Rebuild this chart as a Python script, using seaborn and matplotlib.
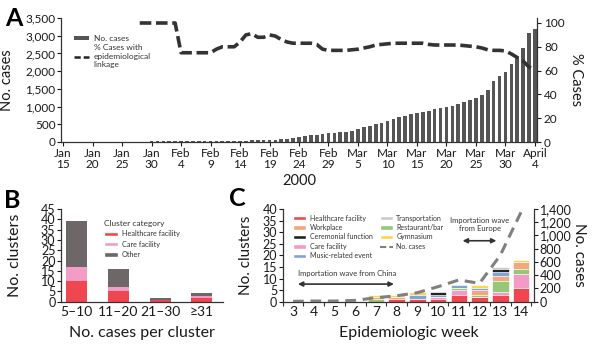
import numpy as np
import pandas as pd
import matplotlib
matplotlib.use("Agg")
import matplotlib.pyplot as plt
from matplotlib.patches import Patch
from matplotlib.lines import Line2D
import seaborn as sns

sns.set_style("white")
plt.rcParams['font.family'] = ['Lato', 'DejaVu Sans']

# ---------------- Panel A data ----------------
day_labels = ["Jan\n15", "Jan\n20", "Jan\n25", "Jan\n30", "Feb\n4", "Feb\n9", "Feb\n14",
              "Feb\n19", "Feb\n24", "Feb\n29", "Mar\n5", "Mar\n10", "Mar\n15", "Mar\n20",
              "Mar\n25", "Mar\n30", "April\n4"]
cases_a = [1, 1, 1, 1, 1, 1, 2, 2, 3, 4, 4, 7, 8, 11, 14, 15, 17, 20, 20, 20,
           20, 22, 25, 25, 26, 26, 28, 29, 29, 33, 38, 41, 45, 50, 55, 60, 66, 75, 90, 110,
           140, 165, 185, 210, 230, 245, 262, 275, 292, 318, 355, 410, 450, 495, 528, 592, 640, 695, 745, 792,
           820, 839, 877, 924, 971, 990, 1028, 1075, 1122, 1179, 1245, 1339, 1480, 1716, 1867, 1980, 2188, 2386, 2660, 3065,
           3187]
pct_start = 13
pct_linked = [100, 100, 100, 100, 100, 100, 100, 75, 75, 75, 75, 75, 75, 78, 80, 80, 80, 84,
              90, 91, 88, 88, 90, 89, 86, 84, 83, 83, 83, 83, 82, 78, 77, 77, 77, 77, 77.5,
              78, 79, 80, 81.5, 82, 82.5, 83, 83, 83, 83, 83, 83, 82, 81.5, 81.5, 81.5, 81.5,
              81.5, 81, 80.5, 80, 79, 77.5, 77, 77, 76.5, 74, 71, 68, 63, 61]

# ---------------- Panel B data ----------------
b_cats = ["5\u201310", "11\u201320", "21\u201330", "\u226531"]
b_health = [10, 5, 1, 2]
b_care = [7, 2, 0, 1]
b_other = [22, 9, 1, 1]

# ---------------- Panel C data ----------------
weeks = ["3", "4", "5", "6", "7", "8", "9", "10", "11", "12", "13", "14"]
c_health = [0, 0, 0, 0, 0, 1, 1, 1, 3, 2, 3, 6]
c_care = [0, 0, 0, 0, 0, 0, 0, 1, 2, 0, 1, 6]
c_rest = [0, 0, 0, 0, 1, 0, 0, 0, 1, 1, 5, 2]
c_work = [0, 0, 0, 0, 1, 1, 0, 0, 0, 2, 2, 3]
c_music = [0, 0, 0, 0, 0, 0, 2, 1, 1, 1, 2, 0]
c_cere = [0, 0, 0, 0, 0, 0, 0, 1, 0, 0, 1, 0]
c_trans = [0, 0, 0, 0, 0, 0, 0, 0, 0, 0, 1, 0]
c_gym = [0, 0, 0, 0, 1, 1, 1, 0, 0, 1, 0, 1]
c_cases = [5, 10, 10, 20, 60, 90, 136, 227, 328, 278, 700, 1350]

TXT = "#1a1a1a"
W, H = 600, 346
fig = plt.figure(figsize=(6, 3.46), dpi=100)

def frac(x0, y0, x1, y1):
    return [x0 / W, 1 - y1 / H, (x1 - x0) / W, (y1 - y0) / H]

# ================= Panel A =================
axA = fig.add_axes(frac(61, 18, 537, 142))
days = np.arange(len(cases_a))
dfA = pd.DataFrame({"day": days, "cases": cases_a})
sns.barplot(data=dfA, x="day", y="cases", color="#555555", saturation=1,
            width=0.62, ax=axA, linewidth=0)
axA.set_xlim(-0.35, len(cases_a) - 1 + 0.35)
axA.set_ylim(0, 3500)
axA.set_yticks(np.arange(0, 3501, 500))
axA.set_yticklabels([f"{v:,}" for v in range(0, 3501, 500)])
axA.set_xticks(np.arange(0, len(cases_a), 5))
axA.set_xticklabels(day_labels, linespacing=1.0)
axA.set_xlabel("2000", fontsize=10.5, color=TXT, labelpad=3)
axA.set_ylabel("No. cases", fontsize=10.5, color=TXT)
axA.yaxis.set_label_coords((14 - 61) / 476, 0.5)
axA.tick_params(axis="both", labelsize=8.5, colors=TXT, length=3, width=0.8, pad=1,
                direction="out", bottom=True, left=True)
for s in ["top", "right"]:
    axA.spines[s].set_visible(False)
for s in ["left", "bottom"]:
    axA.spines[s].set_color("#333333")
    axA.spines[s].set_linewidth(0.9)

axA2 = axA.twinx()
dfL = pd.DataFrame({"day": np.arange(pct_start, pct_start + len(pct_linked)), "pct": pct_linked})
sns.lineplot(data=dfL, x="day", y="pct", ax=axA2, color="#333333", linewidth=2.6,
             linestyle=(0, (3.2, 1.3)))
axA2.set_ylim(0, 104.2)
axA2.set_yticks(np.arange(0, 101, 20))
axA2.set_ylabel("% Cases", fontsize=10.5, color=TXT, rotation=270, va="center")
axA2.yaxis.set_label_coords((576 - 61) / 476, 0.5)
axA2.set_xlabel("")
axA2.tick_params(axis="y", labelsize=8.5, colors=TXT, length=3, width=0.8, pad=2, right=True)
for s in ["top", "left", "bottom"]:
    axA2.spines[s].set_visible(False)
axA2.spines["right"].set_color("#333333")
axA2.spines["right"].set_linewidth(0.9)
axA2.set_xlim(axA.get_xlim())

legA = axA.legend(handles=[Patch(facecolor="#555555", edgecolor="none"),
                           Line2D([], [], color="#222222", lw=1.8, linestyle=(0, (2.5, 1.2)))],
                  labels=["No. cases", "% Cases with\nepidemiological\nlinkage"],
                  loc="upper left", bbox_to_anchor=(0.02, 0.89), frameon=False,
                  fontsize=6, handlelength=1.8, handleheight=0.5, handletextpad=0.6,
                  labelspacing=0.3, borderaxespad=0)
for t in legA.get_texts():
    t.set_color("#333333")

fig.text(5 / W, 1 - 18 / H, "A", fontsize=18, fontweight="bold", color="black",
         va="center", ha="left")

# ================= Panel B =================
colB = {"health": "#EF4650", "care": "#F29CC6", "other": "#6D6767"}
axB = fig.add_axes(frac(61, 209, 222.7, 301.7))
cum_h = np.array(b_health)
cum_c = cum_h + np.array(b_care)
cum_o = cum_c + np.array(b_other)
for vals, c in [(cum_o, colB["other"]), (cum_c, colB["care"]), (cum_h, colB["health"])]:
    sns.barplot(x=b_cats, y=vals, order=b_cats, color=c, saturation=1, width=0.5,
                ax=axB, linewidth=0)
axB.set_xlim(-0.38, 3.5)
axB.set_ylim(0, 45)
axB.set_yticks(np.arange(0, 46, 5))
axB.set_xlabel("No. cases per cluster", fontsize=11.5, color=TXT, labelpad=6)
axB.set_ylabel("No. clusters", fontsize=11.5, color=TXT)
axB.yaxis.set_label_coords((22 - 61) / 161.7, 0.5)
axB.tick_params(axis="y", labelsize=9, colors=TXT, length=3, width=0.8, pad=1, left=True)
axB.tick_params(axis="x", labelsize=10, colors=TXT, length=0, pad=3)
for s in ["top", "right"]:
    axB.spines[s].set_visible(False)
for s in ["left", "bottom"]:
    axB.spines[s].set_color("#333333")
    axB.spines[s].set_linewidth(0.9)
legB = axB.legend(handles=[Patch(facecolor=colB["health"]), Patch(facecolor=colB["care"]),
                           Patch(facecolor=colB["other"])],
                  labels=["Healthcare facility", "Care facility", "Other"],
                  title="Cluster category", title_fontsize=6, fontsize=5.2,
                  loc="upper left", bbox_to_anchor=(0.25, 0.91), frameon=False,
                  handlelength=1.9, handleheight=0.6, handletextpad=0.5, labelspacing=0.45,
                  borderaxespad=0)
legB._legend_box.align = "left"
for t in legB.get_texts():
    t.set_color("#333333")
legB.get_title().set_color("#333333")
fig.text(4 / W, 1 - 200 / H, "B", fontsize=18, fontweight="bold", color="black",
         va="center", ha="left")

# ================= Panel C =================
colC = {"health": "#EF4650", "care": "#F39BC6", "rest": "#93C878", "work": "#F5A77C",
        "music": "#7FA2D9", "cere": "#222222", "trans": "#C9C9C9", "gym": "#FDD549"}
axC = fig.add_axes(frac(282.7, 209, 534, 301.7))
layers = [("health", c_health), ("care", c_care), ("rest", c_rest), ("work", c_work),
          ("music", c_music), ("cere", c_cere), ("trans", c_trans), ("gym", c_gym)]
cums = []
run = np.zeros(len(weeks))
for k, v in layers:
    run = run + np.array(v)
    cums.append((k, run.copy()))
for k, vals in reversed(cums):
    sns.barplot(x=weeks, y=vals, order=weeks, color=colC[k], saturation=1, width=0.8,
                ax=axC, edgecolor="white", linewidth=0.5)
axC.set_xlim(-0.48, len(weeks) - 1 + 0.63)
axC.set_ylim(0, 40)
axC.set_yticks(np.arange(0, 41, 5))
axC.set_xlabel("Epidemiologic week", fontsize=11.5, color=TXT, labelpad=6)
axC.set_ylabel("No. clusters", fontsize=11, color=TXT)
axC.yaxis.set_label_coords((253 - 282.7) / 251.3, 0.5)
axC.tick_params(axis="y", labelsize=9, colors=TXT, length=3, width=0.8, pad=1, left=True)
axC.tick_params(axis="x", labelsize=10, colors=TXT, length=0, pad=3)
axC.set_xticks(np.arange(-0.5, len(weeks), 1), minor=True)
axC.tick_params(axis="x", which="minor", length=3, width=0.8, bottom=True, color="#333333")
for s in ["top", "right"]:
    axC.spines[s].set_visible(False)
for s in ["left", "bottom"]:
    axC.spines[s].set_color("#333333")
    axC.spines[s].set_linewidth(0.9)

axC2 = axC.twinx()
sns.lineplot(x=np.arange(len(weeks)), y=c_cases, ax=axC2, color="#808080", linewidth=2.2,
             linestyle=(0, (3.5, 2.2)))
axC2.set_ylim(0, 1400)
axC2.set_yticks(np.arange(0, 1401, 200))
axC2.set_yticklabels([f"{v:,}" for v in range(0, 1401, 200)])
axC2.set_ylabel("No. cases", fontsize=11, color=TXT, rotation=270, va="center")
axC2.yaxis.set_label_coords((579 - 282.7) / 251.3, 0.5)
axC2.tick_params(axis="y", labelsize=9, colors=TXT, length=3, width=0.8, pad=1, right=True)
for s in ["top", "left", "bottom"]:
    axC2.spines[s].set_visible(False)
axC2.spines["right"].set_color("#333333")
axC2.spines["right"].set_linewidth(0.9)
axC2.set_xlim(axC.get_xlim())

legC = axC.legend(handles=[Patch(facecolor=colC["health"]), Patch(facecolor=colC["work"]),
                           Patch(facecolor=colC["cere"]), Patch(facecolor=colC["care"]),
                           Patch(facecolor=colC["music"]), Patch(facecolor=colC["trans"]),
                           Patch(facecolor=colC["rest"]), Patch(facecolor=colC["gym"]),
                           Line2D([], [], color="#808080", lw=1.5, linestyle=(0, (3, 1.5)))],
                  labels=["Healthcare facility", "Workplace", "Ceremonial function",
                          "Care facility", "Music-related event", "Transportation",
                          "Restaurant/bar", "Gymnasium", "No. cases"],
                  ncol=2, fontsize=5, loc="upper left", bbox_to_anchor=(0.03, 0.97),
                  frameon=False, handlelength=1.9, handleheight=0.6, handletextpad=0.5,
                  labelspacing=0.35, columnspacing=1.0, borderaxespad=0)
for t in legC.get_texts():
    t.set_color("#333333")

axC.annotate("", xy=(0.1, 7.6), xytext=(5.0, 7.6),
             arrowprops=dict(arrowstyle="<|-|>", color="#333333", lw=1.2, mutation_scale=7))
axC.text(2.6, 12.3, "Importation wave from China", fontsize=5.5, color="#333333",
         ha="center", va="center")
axC.annotate("", xy=(8.05, 26.3), xytext=(9.95, 26.3),
             arrowprops=dict(arrowstyle="<|-|>", color="#333333", lw=1.2, mutation_scale=7))
axC.text(9.0, 33.3, "Importation wave\nfrom Europe", fontsize=5.5, color="#333333",
         ha="center", va="center", linespacing=1.3)
fig.text(229 / W, 1 - 198 / H, "C", fontsize=18, fontweight="bold", color="black",
         va="center", ha="left")

fig.savefig("out.png", dpi=100)
